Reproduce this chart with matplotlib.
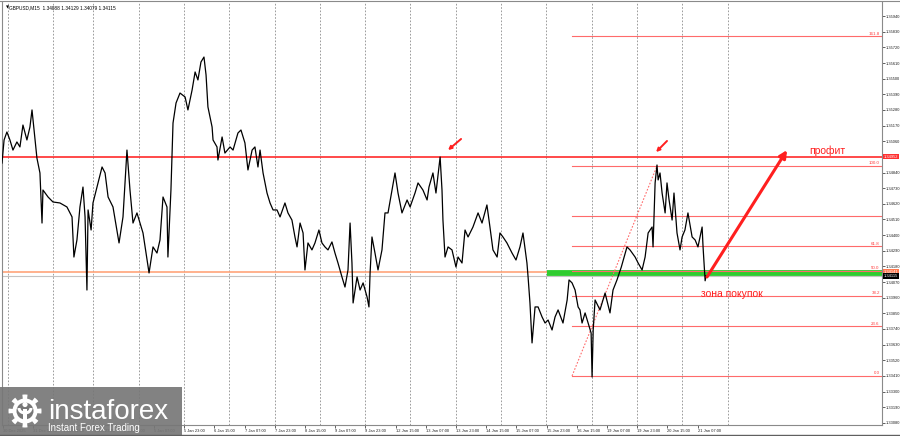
import matplotlib
matplotlib.use("Agg")
import matplotlib.pyplot as plt
import matplotlib.patches as mpatches
import numpy as np

plt.rcParams['font.family'] = ['Liberation Sans', 'DejaVu Sans']

# trading hours counted from the left edge of the chart, and close prices
hours = [
    0.0, 1.1, 2.6, 4.2, 5.8, 7.9, 9.5, 11.1, 13.2, 14.8,
    15.9, 17.5, 18.5, 20.1, 21.2, 21.7, 24.4, 27.0, 30.7, 34.4,
    37.1, 38.1, 39.7, 41.3, 42.9, 44.0, 45.0, 45.6, 47.2, 48.2,
    50.3, 53.0, 54.6, 56.2, 58.8, 62.0, 64.1, 66.2, 67.8, 69.4,
    71.5, 73.1, 74.7, 77.9, 80.0, 82.1, 83.7, 85.3, 87.4, 87.9,
    89.5, 90.6, 92.2, 94.3, 97.0, 98.5, 100.7, 102.3, 103.8, 105.4,
    107.0, 108.1, 109.1, 111.3, 111.8, 113.9, 114.4, 116.6, 118.1, 120.8,
    122.4, 125.0, 126.6, 128.7, 130.3, 132.5, 134.0, 135.6, 136.7, 138.3,
    140.4, 142.0, 143.6, 145.7, 147.3, 149.9, 151.5, 153.6, 155.2, 156.3,
    157.9, 159.5, 160.5, 162.1, 164.2, 165.8, 167.9, 169.5, 171.1, 172.7,
    174.8, 176.4, 178.0, 180.1, 181.7, 183.3, 184.4, 185.4, 186.0, 188.1,
    189.7, 191.3, 193.4, 194.4, 195.0, 196.0, 197.6, 199.2, 201.3, 202.9,
    204.5, 206.6, 208.2, 209.8, 211.9, 214.6, 216.2, 218.8, 220.4, 223.0,
    225.2, 226.2, 228.3, 229.9, 232.1, 233.1, 233.6, 234.7, 236.3, 238.4,
    240.5, 241.6, 243.7, 245.3, 246.9, 249.5, 252.2, 254.3, 256.9, 258.5,
    260.1, 262.3, 263.8, 265.4, 267.5, 270.2, 272.3, 274.4, 276.0, 278.1,
    278.7, 279.7, 280.8, 282.4, 284.0, 286.1, 287.7, 289.3, 291.4, 293.0,
    294.6, 297.2, 299.4, 300.4, 302.0, 303.6, 305.2, 306.2, 307.3, 308.9,
    310.5, 312.1, 312.6, 313.2, 314.2, 316.8, 319.5, 322.1, 323.7, 325.8,
    328.1, 331.1, 332.7, 335.4, 337.0, 339.1, 340.7, 342.3, 344.4, 344.9,
    346.0, 347.0, 347.6, 348.6, 349.7, 351.3, 352.3, 353.4, 355.0, 356.0,
    357.6, 359.2, 360.3, 361.8, 363.4, 365.6, 367.2, 368.7, 370.9, 371.4,
    372.5, 373.0,
]
close = [
    1.34907, 1.35069, 1.35125, 1.35069, 1.34998, 1.35055, 1.35020, 1.35174, 1.35069, 1.35160,
    1.35280, 1.35069, 1.34942, 1.34837, 1.34485, 1.34717, 1.34668, 1.34633, 1.34626, 1.34598,
    1.34528, 1.34246, 1.34366, 1.34598, 1.34738, 1.34528, 1.34014, 1.34577, 1.34436, 1.34626,
    1.34738, 1.34879, 1.34837, 1.34668, 1.34598, 1.34345, 1.34528, 1.34998, 1.34717, 1.34485,
    1.34556, 1.34485, 1.34415, 1.34134, 1.34317, 1.34274, 1.34366, 1.34668, 1.34598, 1.34246,
    1.34717, 1.35188, 1.35329, 1.35399, 1.35371, 1.35280, 1.35420, 1.35547, 1.35491, 1.35617,
    1.35652, 1.35526, 1.35301, 1.35160, 1.35069, 1.35020, 1.34928, 1.35090, 1.34977, 1.35020,
    1.34998, 1.35118, 1.35139, 1.35048, 1.34858, 1.34998, 1.35020, 1.34879, 1.34998, 1.34837,
    1.34696, 1.34626, 1.34577, 1.34577, 1.34528, 1.34626, 1.34556, 1.34506, 1.34387, 1.34317,
    1.34485, 1.34415, 1.34155, 1.34345, 1.34296, 1.34345, 1.34436, 1.34345, 1.34317, 1.34296,
    1.34352, 1.34274, 1.34204, 1.34106, 1.34035, 1.34155, 1.34485, 1.34204, 1.33923, 1.34106,
    1.34014, 1.34064, 1.33965, 1.33895, 1.34134, 1.34387, 1.34274, 1.34155, 1.34296, 1.34556,
    1.34556, 1.34717, 1.34837, 1.34696, 1.34556, 1.34647, 1.34598, 1.34696, 1.34767, 1.34717,
    1.34647, 1.34738, 1.34837, 1.34696, 1.34949, 1.34717, 1.34506, 1.34246, 1.34317, 1.34296,
    1.34176, 1.34246, 1.34204, 1.34436, 1.34387, 1.34457, 1.34556, 1.34485, 1.34612, 1.34457,
    1.34296, 1.34246, 1.34415, 1.34387, 1.34345, 1.34274, 1.34225, 1.34317, 1.34415, 1.34204,
    1.34106, 1.33923, 1.33642, 1.33895, 1.33895, 1.33825, 1.33782, 1.33803, 1.33733, 1.33825,
    1.33874, 1.33782, 1.33944, 1.34085, 1.34064, 1.34014, 1.33895, 1.33874, 1.33782, 1.33853,
    1.33782, 1.33712, 1.33403, 1.33733, 1.33944, 1.33874, 1.33993, 1.33853, 1.34014, 1.34085,
    1.34176, 1.34317, 1.34296, 1.34246, 1.34204, 1.34155, 1.34246, 1.34415, 1.34457, 1.34317,
    1.34767, 1.34893, 1.34788, 1.34837, 1.34696, 1.34556, 1.34767, 1.34647, 1.34506, 1.34696,
    1.34415, 1.34296, 1.34387, 1.34436, 1.34556, 1.34387, 1.34366, 1.34317, 1.34457, 1.34317,
    1.34079, 1.34115,
]

price_ticks = [1.35940, 1.35830, 1.35720, 1.35610, 1.35500, 1.35390, 1.35280, 1.35170,
               1.35060, 1.34950, 1.34840, 1.34730, 1.34620, 1.34510, 1.34400, 1.34290,
               1.34180, 1.34070, 1.33960, 1.33850, 1.33740, 1.33630, 1.33520, 1.33410,
               1.33300, 1.33190, 1.33080]

time_labels = ["30 Dec 2025", "31 Dec 12:00", "1 Jan 04:00", "1 Jan 23:00", "2 Jan 15:00",
               "5 Jan 07:00", "5 Jan 23:00", "6 Jan 15:00", "7 Jan 07:00", "7 Jan 23:00",
               "8 Jan 15:00", "9 Jan 07:00", "9 Jan 23:00", "12 Jan 15:00", "13 Jan 07:00",
               "13 Jan 23:00", "14 Jan 15:00", "15 Jan 07:00", "15 Jan 23:00", "16 Jan 15:00",
               "19 Jan 07:00", "19 Jan 23:00", "20 Jan 15:00", "21 Jan 07:00"]
time_ticks = [0.5 + 16 * k for k in range(len(time_labels))]

# day separators (trading hours)
day_starts = [3.2, 27.0, 48.2, 72.4, 96.4, 120.4, 144.4, 168.4, 192.4, 216.4,
              240.4, 264.4, 288.4, 312.4, 336.4, 360.4, 384.4]

resistance = 1.34952
support = 1.34141
bid = 1.34115
buy_zone = 1.34134

fib_low, fib_high = 1.33410, 1.34886
fib_levels = [0.0, 23.6, 38.2, 50.0, 61.8, 76.4, 100.0, 161.8]
fib_shown = ["0.0", "23.6", "38.2", "50.0", "61.8", "", "100.0", "161.8"]
fib_start, fib_end = 302.0, 347.0

title = "GBPUSD,M15  1.34088 1.34129 1.34079 1.34115"

RED = "#ff1f1f"
FIB = "#ff6b6b"

fig = plt.figure(figsize=(9, 4.36), dpi=100)
ax = fig.add_axes([2 / 900, 11 / 436, 880 / 900, 423 / 436])
ax.set_xlim(0, 466.2)
ax.set_ylim(1.33065, 1.36039)

for d in day_starts:
    ax.axvline(d, color="#8c8c8c", lw=0.6, ls=(0, (2, 2)), zorder=1)

ax.axhline(resistance, color="#ff2a2a", lw=1.2, zorder=2)
ax.axhline(support, color="#ffa47a", lw=1.2, zorder=2)
ax.axhline(bid, color="#c4c4c4", lw=0.8, zorder=2)
ax.plot([288.7, 466.2], [buy_zone, buy_zone], color="#2fcc2f", lw=4.2,
        solid_capstyle="butt", zorder=2)

# fibonacci grid
rng = fib_high - fib_low
for lvl, txt in zip(fib_levels, fib_shown):
    y = fib_low + rng * lvl / 100.0
    ax.plot([fib_start, 466.2], [y, y], color=FIB, lw=0.8, zorder=2)
    if txt:
        ax.text(465.0, y + 0.00004, txt, color="#ff3a3a", fontsize=3.2,
                ha="right", va="bottom", zorder=3)
ax.plot([fib_start, fib_end], [fib_low, fib_high], color=FIB, lw=0.8,
        ls=(0, (1.5, 1.5)), zorder=2)

ax.plot(hours, close, color="black", lw=0.9, zorder=4)

# analyst marks
ax.annotate("", xy=(415.9, 1.34998), xytext=(373.5, 1.34106),
            arrowprops=dict(arrowstyle="-|>", color=RED, lw=2.2, mutation_scale=11,
                            shrinkA=0, shrinkB=0), zorder=6)
for tip, tail in [((236.3, 1.34998), (243.2, 1.35076)),
                  ((346.5, 1.34984), (352.3, 1.35062))]:
    ax.annotate("", xy=tip, xytext=tail,
                arrowprops=dict(arrowstyle="-|>", color=RED, lw=1.4, mutation_scale=5,
                                shrinkA=0, shrinkB=0), zorder=6)
ax.text(437.1, 1.34991, "профит", color=RED, fontsize=7.5, ha="center", va="center", zorder=6)
ax.text(386.8, 1.33986, "зона покупок", color=RED, fontsize=7.5, ha="center", va="center",
        zorder=6)

# axes look
ax.yaxis.tick_right()
ax.set_yticks(price_ticks)
# the red price box covers the regular label at the resistance level
ax.set_yticklabels(["" if abs(p - resistance) < 0.0001 else f"{p:.5f}" for p in price_ticks])
ax.set_xticks(time_ticks)
ax.set_xticklabels(time_labels)
for lab in ax.get_xticklabels():
    lab.set_horizontalalignment("left")
ax.tick_params(axis="y", labelsize=2.9, length=2, width=0.5, pad=1, colors="#202020")
ax.tick_params(axis="x", labelsize=2.9, length=2, width=0.5, pad=1.2, colors="#202020")
for s in ax.spines.values():
    s.set_color("#8a8a8a")
    s.set_linewidth(0.8)
ax.spines["top"].set_visible(False)

box_kw = dict(transform=ax.get_yaxis_transform(), fontsize=2.9, va="center", ha="left",
              zorder=7, clip_on=False)
ax.text(1.002, resistance, f"{resistance:.5f}", color="white",
        bbox=dict(boxstyle="square,pad=0.2", fc="#ff3030", ec="none"), **box_kw)
ax.text(1.002, support + 0.00003, f"{support:.5f}", color="white",
        bbox=dict(boxstyle="square,pad=0.2", fc="#ff7a50", ec="none"), **box_kw)
ax.text(1.002, bid - 0.00003, f"{bid:.5f}", color="white",
        bbox=dict(boxstyle="square,pad=0.2", fc="black", ec="none"), **box_kw)

ax.text(0.0045, 0.992, "▼", transform=ax.transAxes, fontsize=3, va="top", ha="left",
        family=["DejaVu Sans"])
ax.text(0.008, 0.993, title, transform=ax.transAxes, fontsize=3.4, va="top", ha="left")

# overlay in pixel space: frame and watermark
ov = fig.add_axes([0, 0, 1, 1])
ov.set_xlim(0, 900)
ov.set_ylim(436, 0)
ov.axis("off")
ov.patch.set_alpha(0)
ov.plot([0, 900], [1.5, 1.5], color="#8a8a8a", lw=0.8)
ov.plot([0, 900], [435, 435], color="#606060", lw=1.0)

ov.add_patch(mpatches.Rectangle((0, 387), 182, 49, fc="#777777", ec="none", alpha=0.92))
t = np.linspace(0, 2 * np.pi, 400)
r = np.where(np.cos(8 * t) > 0.25, 16.5, 12.5)
ov.fill(25 + r * np.cos(t), 411 + r * np.sin(t), color="white", lw=0)
ov.add_patch(mpatches.Circle((25, 411), 8.5, fc="#777777", ec="none"))
ov.add_patch(mpatches.Circle((25, 404.5), 2.6, fc="white", ec="none"))
ov.add_patch(mpatches.Rectangle((23.3, 409), 3.4, 11, fc="white", ec="none"))
ov.add_patch(mpatches.Arc((25, 408), 12, 10, theta1=0, theta2=180, ec="white", lw=2.2))
ov.text(48, 419, "instaforex", color="white", fontsize=20, ha="left", va="baseline")
ov.text(48, 427.5, "Instant Forex Trading", color="white", fontsize=7, ha="left",
        va="center")

fig.savefig("out.png", dpi=100)
